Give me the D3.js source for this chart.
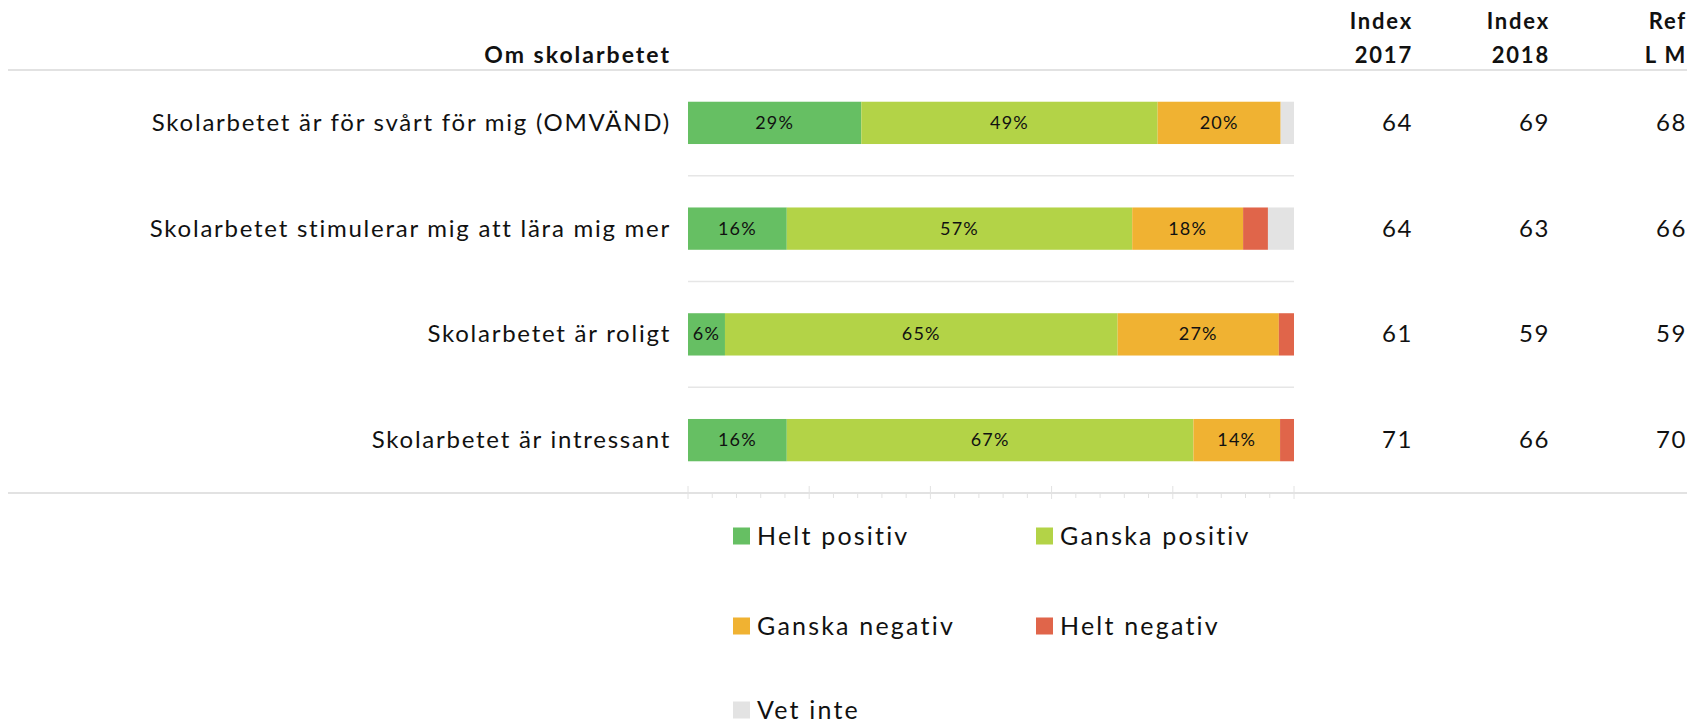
<!DOCTYPE html>
<html>
<head>
<meta charset="utf-8">
<script src="https://cdn.jsdelivr.net/npm/d3@7"></script>
<style>
  html, body { margin: 0; padding: 0; background: #fff; overflow: hidden; }
  text { font-family: Lato, "Open Sans", sans-serif; fill: #111; }
</style>
</head>
<body>
<svg id="chart" width="1687" height="724"></svg>
<script>
// questions (rows, top to bottom)
const questions = [
  'Skolarbetet är för svårt för mig (OMVÄND)',
  'Skolarbetet stimulerar mig att lära mig mer',
  'Skolarbetet är roligt',
  'Skolarbetet är intressant'
];

// answer categories, in stacking order
const answers = ['Helt positiv', 'Ganska positiv', 'Ganska negativ', 'Helt negativ', 'Vet inte'];
const answerColors = ['#66bf63', '#b3d347', '#f0b232', '#e0654a', '#e3e3e3'];

// share in % per answer, one array per question
const shares = [
  [28.6, 48.9, 20.3, 0, 2.2],
  [16.3, 57.0, 18.3, 4.1, 4.3],
  [6.1, 64.8, 26.6, 2.5, 0],
  [16.3, 67.1, 14.3, 2.3, 0]
];

// index columns at the right
const indexHeaders = [['Index', '2017'], ['Index', '2018'], ['Ref', 'L M']];
const index2017 = [64, 64, 61, 71];
const index2018 = [69, 63, 59, 66];
const refLM = [68, 66, 59, 70];

const W = 1687;
const svg = d3.select('#chart');

const x = d3.scaleLinear().domain([0, 100]).range([688, 1294]);
const y = d3.scaleBand()
  .domain(questions)
  .range([70, 493])
  .paddingInner(0.6)
  .paddingOuter(0.3);

// header
svg.append('line')
  .attr('x1', 8).attr('x2', W)
  .attr('y1', 70).attr('y2', 70)
  .attr('stroke', '#e2e2e2').attr('stroke-width', 2);

svg.append('text')
  .attr('x', 671).attr('y', 63)
  .attr('text-anchor', 'end')
  .attr('font-size', 23).attr('font-weight', 'bold')
  .attr('letter-spacing', 2)
  .text('Om skolarbetet');

const colRight = [1413, 1550, 1687];
indexHeaders.forEach((lines, i) => {
  lines.forEach((l, j) => {
    svg.append('text')
      .attr('x', colRight[i]).attr('y', 29 + j * 34)
      .attr('text-anchor', 'end')
      .attr('font-size', 22).attr('font-weight', 'bold')
      .attr('letter-spacing', 1.8)
      .text(l);
  });
});

// row separators between bars
questions.slice(1).forEach(q => {
  const yy = y(q) - y.step() * y.paddingInner() / 2;
  svg.append('line')
    .attr('x1', x(0)).attr('x2', x(100))
    .attr('y1', yy).attr('y2', yy)
    .attr('stroke', '#e6e6e6').attr('stroke-width', 1.5);
});

// stacked bars
const rows = svg.selectAll('g.row')
  .data(questions)
  .join('g')
  .attr('class', 'row');

rows.each(function(q, qi) {
  const g = d3.select(this);
  let acc = 0;
  const segs = shares[qi].map((v, k) => {
    const s = { k: k, x0: acc, x1: acc + v, v: v };
    acc += v;
    return s;
  }).filter(s => s.v > 0);

  g.selectAll('rect')
    .data(segs)
    .join('rect')
    .attr('x', d => x(d.x0))
    .attr('width', d => x(d.x1) - x(d.x0))
    .attr('y', y(q))
    .attr('height', y.bandwidth())
    .attr('fill', d => answerColors[d.k]);

  g.selectAll('text.lbl')
    .data(segs.filter(d => d.v >= 5))
    .join('text')
    .attr('class', 'lbl')
    .attr('x', d => (x(d.x0) + x(d.x1)) / 2)
    .attr('y', y(q) + y.bandwidth() / 2 + 6)
    .attr('text-anchor', 'middle')
    .attr('font-size', 18)
    .attr('letter-spacing', 1.2)
    .text(d => Math.round(d.v) + '%');

  // question label
  g.append('text')
    .attr('x', 671)
    .attr('y', y(q) + y.bandwidth() / 2 + 8)
    .attr('text-anchor', 'end')
    .attr('font-size', 24)
    .attr('letter-spacing', 1.75)
    .text(q);

  // index values
  [index2017, index2018, refLM].forEach((arr, ci) => {
    g.append('text')
      .attr('x', colRight[ci])
      .attr('y', y(q) + y.bandwidth() / 2 + 8)
      .attr('text-anchor', 'end')
      .attr('font-size', 24)
      .attr('letter-spacing', 1.6)
      .text(arr[qi]);
  });
});

// bottom axis
svg.append('line')
  .attr('x1', 8).attr('x2', W)
  .attr('y1', 493).attr('y2', 493)
  .attr('stroke', '#e2e2e2').attr('stroke-width', 2);

svg.append('g')
  .selectAll('line')
  .data(d3.range(0, 101, 4).filter(v => v % 20 !== 0))
  .join('line')
  .attr('x1', d => x(d)).attr('x2', d => x(d))
  .attr('y1', 493).attr('y2', 498)
  .attr('stroke', '#e2e2e2').attr('stroke-width', 1);

svg.append('g')
  .selectAll('line')
  .data(d3.range(0, 101, 20))
  .join('line')
  .attr('x1', d => x(d)).attr('x2', d => x(d))
  .attr('y1', 486).attr('y2', 499)
  .attr('stroke', '#e2e2e2').attr('stroke-width', 1);

// legend
const legend = svg.append('g')
  .selectAll('g')
  .data(answers)
  .join('g')
  .attr('transform', (d, i) => `translate(${i % 2 === 0 ? 733 : 1036},${[536, 626, 710][Math.floor(i / 2)]})`);

legend.append('rect')
  .attr('x', 0).attr('y', -8.5)
  .attr('width', 17).attr('height', 17)
  .attr('fill', (d, i) => answerColors[i]);

legend.append('text')
  .attr('x', 24).attr('y', 8.5)
  .attr('font-size', 25)
  .attr('letter-spacing', 2.2)
  .text(d => d);
</script>
</body>
</html>
